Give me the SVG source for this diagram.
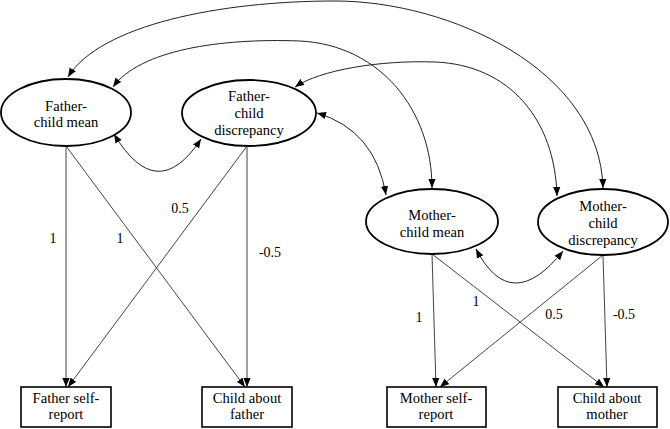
<svg xmlns="http://www.w3.org/2000/svg" width="670" height="429" viewBox="0 0 670 429" font-family="'Liberation Serif', 'Times New Roman', 'DejaVu Serif', serif">
<defs>
<marker id="ah" viewBox="0 0 10 8" refX="10" refY="4" markerWidth="9" markerHeight="8" markerUnits="userSpaceOnUse" orient="auto-start-reverse">
<path d="M0,0 L10,4 L0,8 z" fill="#000"/>
</marker>
<style>
.lat{fill:#fff;stroke:#000;stroke-width:1.8}
.obs{fill:#fff;stroke:#000;stroke-width:1.6}
.t{font-size:14.6px;fill:#000;text-anchor:middle}
.n{font-size:14px;fill:#000;text-anchor:middle}
.s{fill:none;stroke:#444;stroke-width:1;marker-end:url(#ah)}
.c{fill:none;stroke:#222;stroke-width:1;marker-start:url(#ah);marker-end:url(#ah)}
</style>
</defs>
<rect width="670" height="429" fill="#fff"/>
<g id="connectors">
<path class="c" d="M68,77 C100,25 220,1 335,1 C450,1 600,70 603,188"/>
<path class="c" d="M113,87 C140,50 220,38 300,41 C380,45 432,110 432,188"/>
<path class="c" d="M295,87 C320,70 380,60 435,62 C510,65 555,120 557,196"/>
<path class="c" d="M317,113 Q375,130 386,195"/>
<path class="c" d="M114,134 Q157,206 201,139"/>
<path class="c" d="M476,249 Q511,316 563,251"/>
<line class="s" x1="66" y1="146" x2="66" y2="387"/>
<line class="s" x1="66" y1="146" x2="245" y2="387"/>
<line class="s" x1="247" y1="146" x2="68" y2="387"/>
<line class="s" x1="247" y1="146" x2="247" y2="387"/>
<line class="s" x1="432" y1="254" x2="436" y2="387"/>
<line class="s" x1="432" y1="254" x2="604" y2="387"/>
<line class="s" x1="603" y1="255" x2="440" y2="387"/>
<line class="s" x1="603" y1="255" x2="607" y2="387"/>
<text class="n" x="53" y="243" font-family="Liberation Serif, serif">1</text>
<text class="n" x="120" y="243" font-family="Liberation Serif, serif">1</text>
<text class="n" x="180" y="213" font-family="Liberation Serif, serif">0.5</text>
<text class="n" x="270" y="257" font-family="Liberation Serif, serif">-0.5</text>
<text class="n" x="419" y="322" font-family="Liberation Serif, serif">1</text>
<text class="n" x="476" y="306" font-family="Liberation Serif, serif">1</text>
<text class="n" x="554" y="319" font-family="Liberation Serif, serif">0.5</text>
<text class="n" x="624" y="319" font-family="Liberation Serif, serif">-0.5</text>
</g>
<g id="father-mean" font-family="Liberation Serif, serif">
<ellipse class="lat" cx="66" cy="112.5" rx="65" ry="33.5"/>
<text class="t" x="66" y="111">Father-</text>
<text class="t" x="66" y="127">child mean</text>
</g>
<g id="father-discrepancy" font-family="Liberation Serif, serif">
<ellipse class="lat" cx="249" cy="113" rx="67" ry="33"/>
<text class="t" x="249" y="101">Father-</text>
<text class="t" x="249" y="118">child</text>
<text class="t" x="249" y="135">discrepancy</text>
</g>
<g id="mother-mean" font-family="Liberation Serif, serif">
<ellipse class="lat" cx="432" cy="221.5" rx="66" ry="32.5"/>
<text class="t" x="432" y="220">Mother-</text>
<text class="t" x="432" y="236.5">child mean</text>
</g>
<g id="mother-discrepancy" font-family="Liberation Serif, serif">
<ellipse class="lat" cx="603" cy="222" rx="65" ry="33"/>
<text class="t" x="603" y="210.5">Mother-</text>
<text class="t" x="603" y="228">child</text>
<text class="t" x="603" y="245">discrepancy</text>
</g>
<g id="father-self-report" font-family="Liberation Serif, serif">
<rect class="obs" x="21" y="387" width="90" height="40"/>
<text class="t" x="66" y="403">Father self-</text>
<text class="t" x="66" y="419">report</text>
</g>
<g id="child-about-father" font-family="Liberation Serif, serif">
<rect class="obs" x="202" y="387" width="90" height="40"/>
<text class="t" x="247" y="403">Child about</text>
<text class="t" x="247" y="419">father</text>
</g>
<g id="mother-self-report" font-family="Liberation Serif, serif">
<rect class="obs" x="387" y="387" width="99" height="40"/>
<text class="t" x="436" y="403">Mother self-</text>
<text class="t" x="436" y="419">report</text>
</g>
<g id="child-about-mother" font-family="Liberation Serif, serif">
<rect class="obs" x="558" y="387" width="99" height="40"/>
<text class="t" x="607" y="403">Child about</text>
<text class="t" x="607" y="419">mother</text>
</g>
</svg>
